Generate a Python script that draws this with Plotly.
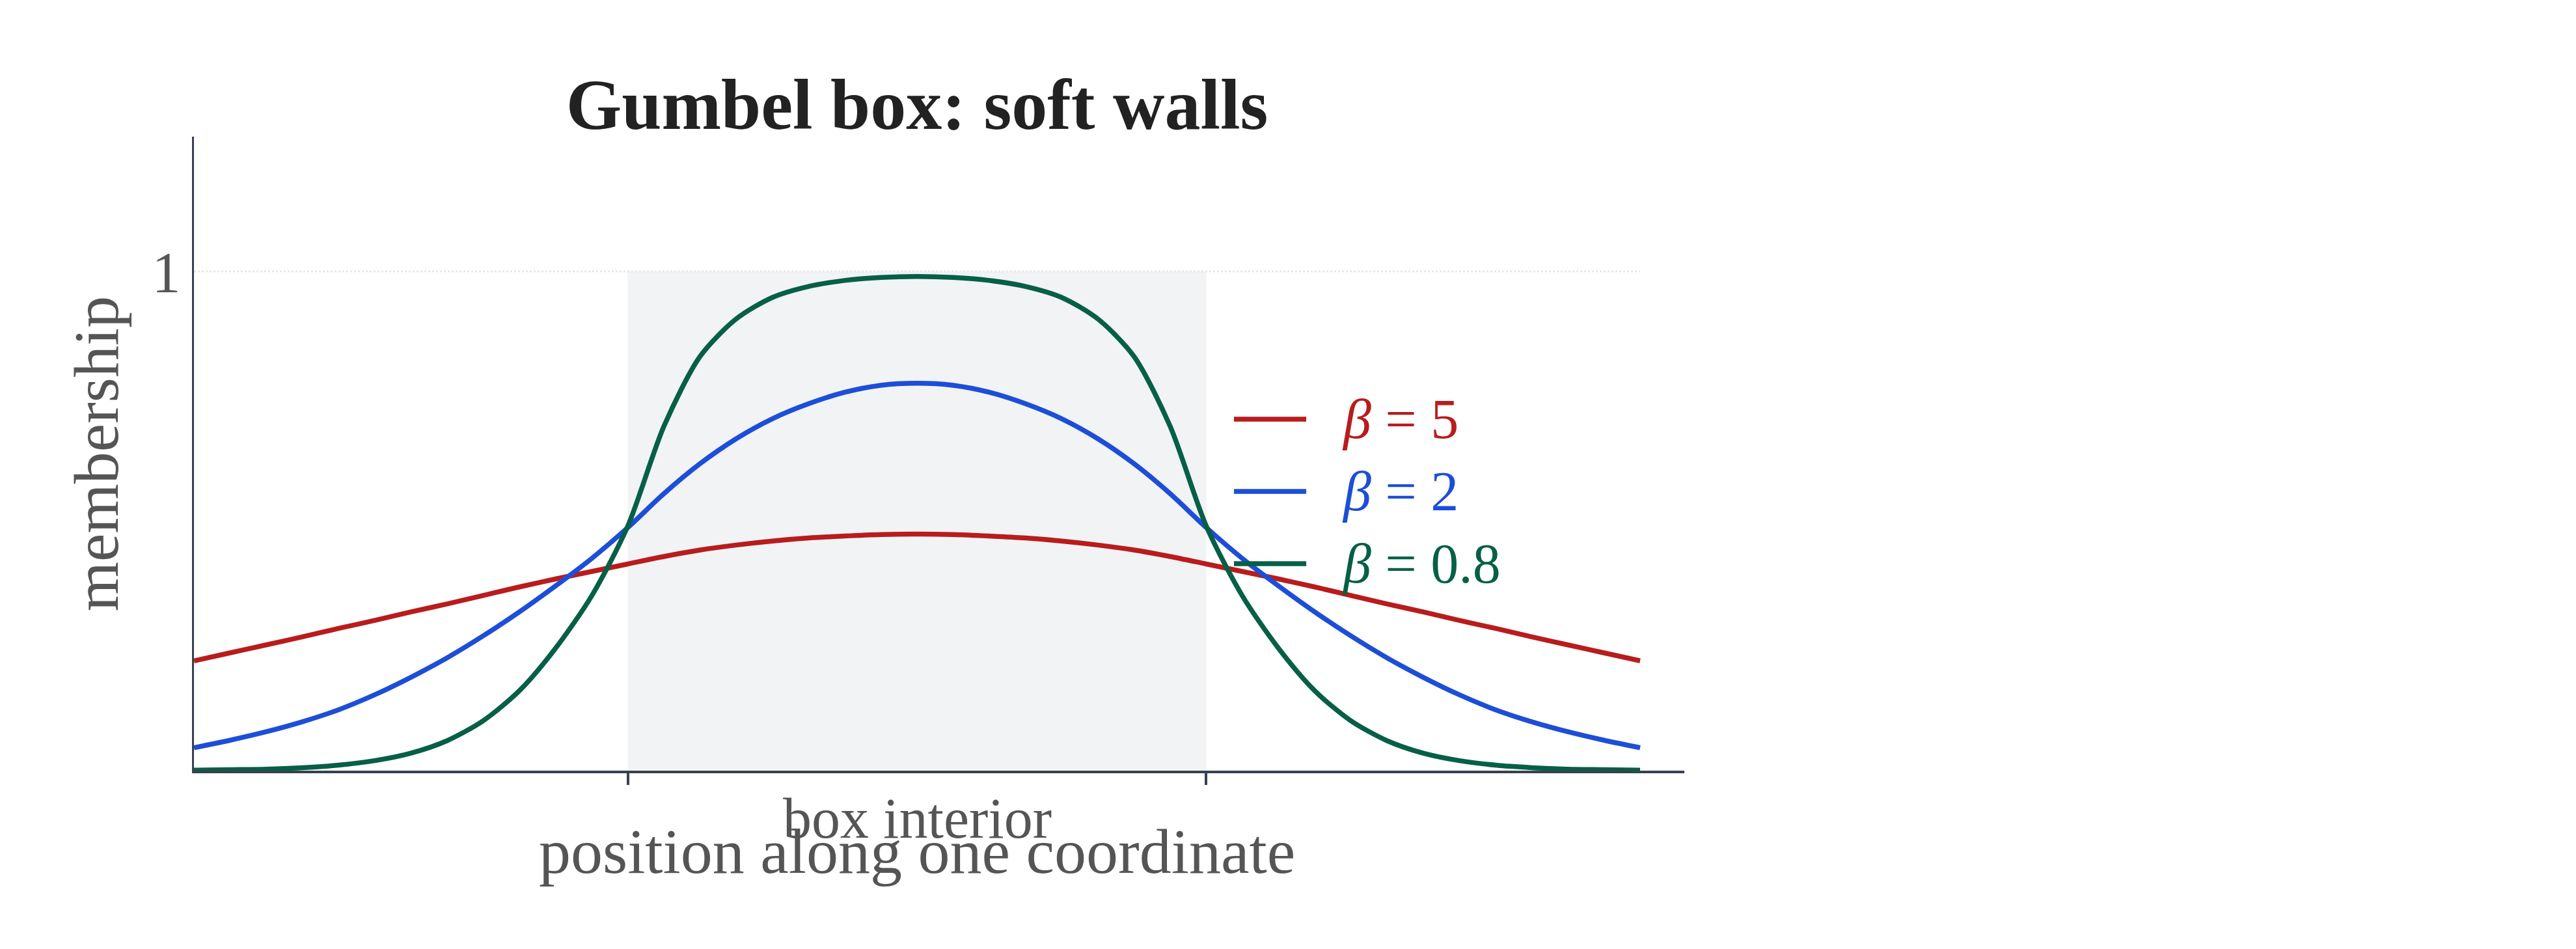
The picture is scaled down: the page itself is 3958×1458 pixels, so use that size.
import plotly.graph_objects as go

# right half of the coordinate (box wall at 1); the left half is mirrored
x_half = [0.0, 0.125, 0.25, 0.375, 0.5, 0.625, 0.75, 0.875, 1.0, 1.125, 1.25,
          1.375, 1.5, 1.625, 1.75, 1.875, 2.0, 2.125, 2.25, 2.375, 2.5]

# membership
red_half = [0.474, 0.473, 0.47, 0.466, 0.46, 0.452, 0.442, 0.429, 0.414, 0.399, 0.384,
            0.368, 0.351, 0.334, 0.318, 0.301, 0.285, 0.268, 0.252, 0.236, 0.22]
blue_half = [0.776, 0.772, 0.758, 0.735, 0.705, 0.665, 0.615, 0.555, 0.487, 0.425, 0.37,
             0.318, 0.27, 0.226, 0.187, 0.152, 0.122, 0.098, 0.078, 0.061, 0.046]
green_half = [0.99, 0.988, 0.982, 0.97, 0.948, 0.905, 0.83, 0.69, 0.49, 0.35, 0.245,
              0.16, 0.10, 0.06, 0.035, 0.02, 0.011, 0.006, 0.003, 0.002, 0.001]

series = [
    ("<i>β</i> = 5", red_half, "#b91c1c"),
    ("<i>β</i> = 2", blue_half, "#1d4ed8"),
    ("<i>β</i> = 0.8", green_half, "#065f46"),
]

x = [-v for v in x_half[::-1]] + x_half[1:]

fig = go.Figure()

for name, half, color in series:
    y = half[::-1] + half[1:]
    fig.add_trace(go.Scatter(
        x=x, y=y, mode="lines", name=name, showlegend=False,
        line=dict(color=color, width=7.5, shape="spline", smoothing=0.8),
    ))

fig.add_shape(type="rect", x0=-1, x1=1, y0=0, y1=1, layer="below",
              fillcolor="#f1f3f5", line_width=0)
fig.add_shape(type="line", x0=-2.5, x1=2.5, y0=1, y1=1, layer="below",
              line=dict(color="#e5e7eb", width=3, dash="dot"))

# legend drawn by hand so the line samples match the reference length
for i, (name, half, color) in enumerate(series):
    py = (1176 - (636 + 111 * i)) / 974
    fig.add_shape(type="line", xref="paper", yref="paper",
                  x0=(1888 - 290) / 2290, x1=(1999 - 290) / 2290, y0=py, y1=py,
                  line=dict(color=color, width=7.5))
    fig.add_annotation(xref="paper", yref="paper", x=(2052 - 290) / 2290, y=py,
                       xanchor="left", yanchor="middle", text=name, showarrow=False,
                       font=dict(size=86, color=color))

fig.add_annotation(x=0, y=0, yref="y", text="box interior", showarrow=False,
                   yanchor="middle", yshift=-73, font=dict(size=88, color="#555"))
fig.add_annotation(x=0, y=0, yref="y", text="position along one coordinate",
                   showarrow=False, yanchor="middle", yshift=-124,
                   font=dict(size=98, color="#555"))

fig.update_layout(
    width=3958, height=1458,
    paper_bgcolor="white", plot_bgcolor="white",
    margin=dict(l=290, r=1378, t=202, b=282),
    font=dict(family="Liberation Serif, DejaVu Serif, serif", color="#555"),
    title=dict(text="<b>Gumbel box: soft walls</b>", x=(1401 - 0) / 3958,
               xanchor="center", xref="container", y=1 - 151 / 1458,
               yanchor="middle", font=dict(size=110, color="#222")),
    showlegend=False,
    xaxis=dict(range=[-2.5, 2.653], showgrid=False, zeroline=False,
               showline=True, linecolor="#374151", linewidth=4,
               tickvals=[-1, 1], ticktext=["", ""], ticks="outside",
               ticklen=18, tickwidth=4, tickcolor="#374151"),
    yaxis=dict(range=[0, 1.27], showgrid=False, zeroline=False,
               showline=True, linecolor="#374151", linewidth=3,
               tickvals=[1], ticktext=["1"], ticks="",
               tickfont=dict(size=88, color="#555"),
               title=dict(text="membership", font=dict(size=98, color="#555"),
                          standoff=20)),
)

fig.write_html("out.html")
